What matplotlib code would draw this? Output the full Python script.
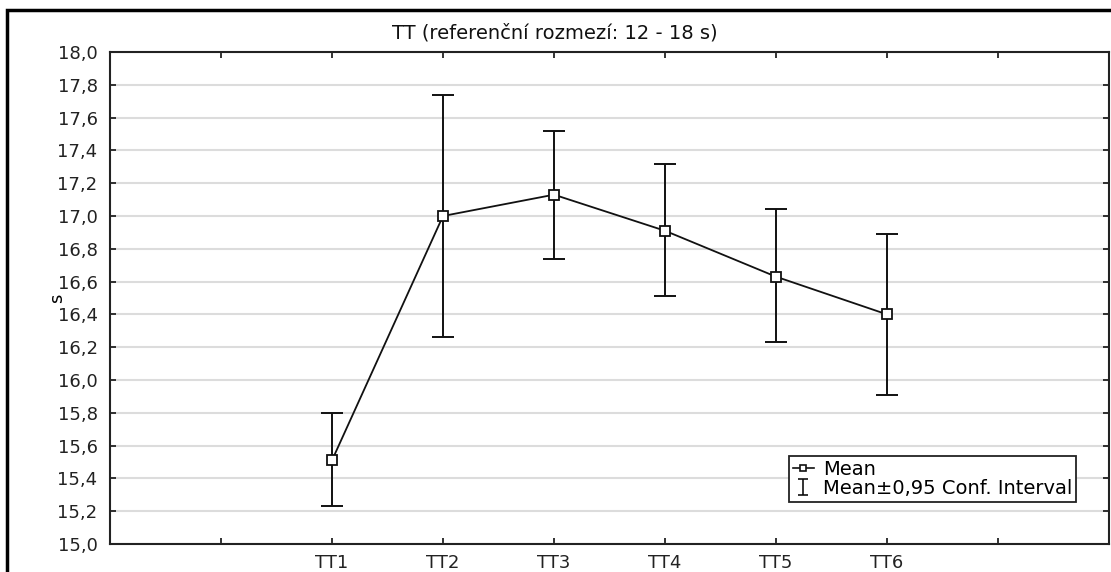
import matplotlib
matplotlib.use("Agg")
import matplotlib.pyplot as plt
from matplotlib.patches import Rectangle
from matplotlib.lines import Line2D
from matplotlib.path import Path
from matplotlib.ticker import FuncFormatter, MultipleLocator

categories = ["TT1", "TT2", "TT3", "TT4", "TT5", "TT6"]
means = [15.51, 17.00, 17.13, 16.91, 16.63, 16.40]
ci_low = [15.23, 16.26, 16.74, 16.51, 16.23, 15.91]
ci_high = [15.80, 17.74, 17.52, 17.32, 17.04, 16.89]

plt.rcParams['font.family'] = ['DejaVu Sans']
FS = 13

fig = plt.figure(figsize=(11.11, 5.72), dpi=100)
W, H = 1111, 572
ax = fig.add_axes([110 / W, 1 - 544 / H, (1109 - 110) / W, (544 - 52) / H])

xpos = list(range(2, 2 + len(categories)))
yerr = [[m - l for m, l in zip(means, ci_low)], [h - m for m, h in zip(means, ci_high)]]

ax.errorbar(xpos, means, yerr=yerr, fmt='none', ecolor='#111111',
            elinewidth=1.4, capsize=8, capthick=1.4, zorder=3)
ax.plot(xpos, means, color='#111111', lw=1.3, marker='s', markersize=7,
        markerfacecolor='white', markeredgecolor='#111111', markeredgewidth=1.3, zorder=4)

ax.set_xlim(0, 9)
ax.set_ylim(15.0, 18.0)
ax.set_xticks(range(1, 9))
ax.set_xticklabels([""] + categories + [""])
ax.yaxis.set_major_locator(MultipleLocator(0.2))
ax.yaxis.set_major_formatter(FuncFormatter(lambda v, p: f"{v:.1f}".replace('.', ',')))
ax.grid(axis='y', color='#dcdcdc', lw=1.5, zorder=0)
ax.set_axisbelow(True)
ax.tick_params(axis='both', direction='in', length=4, width=1.3, labelsize=FS,
               top=True, right=True, colors='#222222')
ax.tick_params(axis='x', pad=7)
ax.tick_params(axis='y', pad=9)
for s in ax.spines.values():
    s.set_linewidth(1.5)
    s.set_color('#222222')

ax.set_ylabel("s", fontsize=FS)
ax.yaxis.set_label_coords(-0.044, 0.5)
fig.text(555 / W, 1 - 33 / H, "TT (referenční rozmezí: 12 - 18 s)", fontsize=14,
         ha='center', va='center', color='#111111')

ibeam = Path([(-0.6, 1), (0.6, 1), (0, 1), (0, -1), (-0.6, -1), (0.6, -1)],
             [Path.MOVETO, Path.LINETO, Path.MOVETO, Path.LINETO, Path.MOVETO, Path.LINETO])
h_mean = Line2D([], [], color='#111111', lw=1.2, marker='s', markersize=5,
                markerfacecolor='white', markeredgecolor='#111111', markeredgewidth=1.2)
h_ci = Line2D([], [], linestyle='none', marker=ibeam, markersize=12,
              color='#111111', markeredgewidth=1.2, fillstyle='none')

leg = ax.legend([h_mean, h_ci], ["Mean", "Mean±0,95 Conf. Interval"], loc='lower right',
                bbox_to_anchor=(966 / 999, 42 / 492), fontsize=14, frameon=True,
                fancybox=False, framealpha=1, edgecolor='#222222', borderpad=0.2,
                labelspacing=0.0, handlelength=1.1, handletextpad=0.45, borderaxespad=0)
leg.get_frame().set_linewidth(1.3)

fig.patches.append(Rectangle((7 / W, -0.1), 1.2, 1 - 10 / H + 0.1, transform=fig.transFigure,
                             fill=False, edgecolor='black', lw=2.5))

fig.savefig("out.png", dpi=100)
